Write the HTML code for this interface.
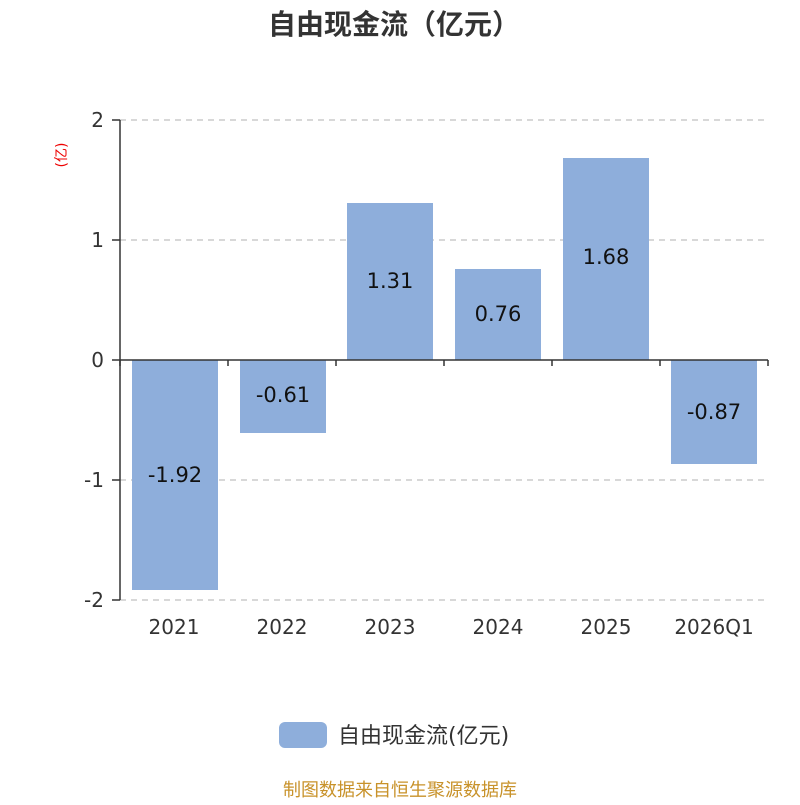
<!DOCTYPE html>
<html><head><meta charset="utf-8"><style>
body{margin:0;background:#fff;}
svg text{font-family:"DejaVu Sans","Noto Sans CJK SC",sans-serif;}
</style></head><body>
<svg width="800" height="800" xmlns="http://www.w3.org/2000/svg">
<rect width="800" height="800" fill="#fff"/>
<text x="394" y="34" text-anchor="middle" font-size="28" font-weight="bold" fill="#333">自由现金流（亿元）</text>
<text x="0" y="0" transform="translate(66,155) rotate(-90)" text-anchor="middle" font-size="14" fill="#e00">(亿)</text>
<g stroke="#ccc" stroke-width="1.5" stroke-dasharray="6,5">
<line x1="120" y1="120" x2="768" y2="120"/>
<line x1="120" y1="240" x2="768" y2="240"/>
<line x1="120" y1="480" x2="768" y2="480"/>
<line x1="120" y1="600" x2="768" y2="600"/>
</g>
<g fill="#8eaedb">
<rect x="132" y="360" width="86" height="230"/>
<rect x="240" y="360" width="86" height="73"/>
<rect x="347" y="203" width="86" height="157"/>
<rect x="455" y="269" width="86" height="91"/>
<rect x="563" y="158" width="86" height="202"/>
<rect x="671" y="360" width="86" height="104"/>
</g>
<g stroke="#333" stroke-width="1.5">
<line x1="120" y1="120" x2="120" y2="600"/>
<line x1="112" y1="120" x2="120" y2="120"/>
<line x1="112" y1="240" x2="120" y2="240"/>
<line x1="112" y1="360" x2="120" y2="360"/>
<line x1="112" y1="480" x2="120" y2="480"/>
<line x1="112" y1="600" x2="120" y2="600"/>
<line x1="120" y1="360" x2="768" y2="360"/>
<line x1="120" y1="360" x2="120" y2="366"/>
<line x1="228" y1="360" x2="228" y2="366"/>
<line x1="336" y1="360" x2="336" y2="366"/>
<line x1="444" y1="360" x2="444" y2="366"/>
<line x1="552" y1="360" x2="552" y2="366"/>
<line x1="660" y1="360" x2="660" y2="366"/>
<line x1="768" y1="360" x2="768" y2="366"/>
</g>
<g font-size="20" fill="#333" text-anchor="end">
<text x="104" y="127">2</text><text x="104" y="247">1</text><text x="104" y="367">0</text>
<text x="104" y="487">-1</text><text x="104" y="607">-2</text>
</g>
<g font-size="20" fill="#333" text-anchor="middle">
<text x="174" y="634">2021</text><text x="282" y="634">2022</text><text x="390" y="634">2023</text>
<text x="498" y="634">2024</text><text x="606" y="634">2025</text><text x="714" y="634">2026Q1</text>
</g>
<g font-size="21" fill="#111" text-anchor="middle">
<text x="175" y="482">-1.92</text><text x="283" y="402">-0.61</text><text x="390" y="288">1.31</text>
<text x="498" y="321">0.76</text><text x="606" y="264">1.68</text><text x="714" y="419">-0.87</text>
</g>
<rect x="279" y="722" width="48" height="26" rx="6" fill="#8eaedb"/>
<text x="338" y="743" font-size="22" fill="#333">自由现金流(亿元)</text>
<text x="400" y="796" text-anchor="middle" font-size="18" fill="#c8922a">制图数据来自恒生聚源数据库</text>
</svg>
</body></html>
